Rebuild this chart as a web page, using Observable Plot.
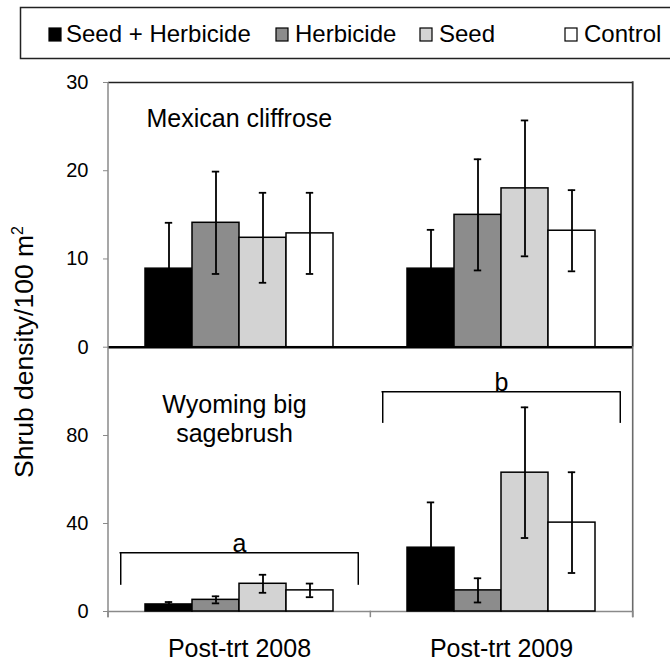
<!DOCTYPE html>
<html><head><meta charset="utf-8">
<script src="https://cdn.jsdelivr.net/npm/d3@7"></script>
<script src="https://cdn.jsdelivr.net/npm/@observablehq/plot@0.6"></script>
<style>
body{margin:0;background:#fff;}
#chart{position:relative;width:670px;height:662px;overflow:hidden;font-family:"Liberation Sans",Arial,sans-serif;background:#fff;}
#chart svg{position:absolute;left:0;}
</style></head><body><div id="chart"></div>
<script>
// ---- data ----
const groups = ["Post-trt 2008", "Post-trt 2009"];
const treatments = ["Seed + Herbicide", "Herbicide", "Seed", "Control"];
const treatmentColors = ["#000000", "#8c8c8c", "#d3d3d3", "#ffffff"];
const cliffrose2008 = [8.9, 14.1, 12.4, 12.9];
const cliffrose2008Err = [5.2, 5.8, 5.1, 4.6];
const cliffrose2009 = [8.9, 15.0, 18.0, 13.2];
const cliffrose2009Err = [4.4, 6.3, 7.7, 4.6];
const sage2008 = [3.2, 5.3, 12.6, 9.6];
const sage2008Err = [1.1, 1.6, 4.1, 3.1];
const sage2009 = [29.0, 9.6, 63.1, 40.4];
const sage2009Err = [20.6, 5.5, 29.7, 22.9];
const cliffroseTicks = [0, 10, 20, 30];
const sageTicks = [0, 40, 80];
const bracketLevels = [26.7, 99.9];
const bracketEnds = [11.9, 85.5];
const bracketLetters = ["a", "b"];
const panelTitles = ["Mexican cliffrose", "Wyoming big\nsagebrush"];
const yLabel = "Shrub density/100 m";
const yLabelSup = "2";

// ---- layout ----
const W = 670;
const frameLeft = 108, frameRight = 632.7;
const topFrameTop = 82, midY = 346.7, bottomZeroY = 610.7;
const barPaddingOuter = 0.756;
const capWidth = 8;
const bracketInset = 11.5;
const fontFamily = '"Liberation Sans", Arial, sans-serif';
const facetWidth = (frameRight - frameLeft) / groups.length;
const step = facetWidth / (treatments.length + 2 * barPaddingOuter);
const capInset = (step - capWidth) / 2;
const bracketDx = step / 2 + barPaddingOuter * step - bracketInset;

function panelRows(group, vals, errs) {
  return treatments.map((t, i) => ({group, trt: t, value: vals[i], err: errs[i]}));
}
const cliffroseData = [...panelRows(groups[0], cliffrose2008, cliffrose2008Err), ...panelRows(groups[1], cliffrose2009, cliffrose2009Err)];
const sageData = [...panelRows(groups[0], sage2008, sage2008Err), ...panelRows(groups[1], sage2009, sage2009Err)];
const brackets = groups.map((g, i) => ({group: g, level: bracketLevels[i], end: bracketEnds[i], letter: bracketLetters[i]}));

function barMarks(data) {
  return [
    Plot.barY(data, {fx: "group", x: "trt", y: "value", fill: "trt", stroke: "black", strokeWidth: 1.5}),
    Plot.ruleX(data, {fx: "group", x: "trt", y1: d => d.value - d.err, y2: d => d.value + d.err, stroke: "black", strokeWidth: 1.8}),
    Plot.tickY(data, {fx: "group", x: "trt", y: d => d.value + d.err, insetLeft: capInset, insetRight: capInset, stroke: "black", strokeWidth: 1.8}),
    Plot.tickY(data, {fx: "group", x: "trt", y: d => d.value - d.err, insetLeft: capInset, insetRight: capInset, stroke: "black", strokeWidth: 1.8})
  ];
}

const common = {
  width: W,
  marginLeft: frameLeft,
  marginRight: W - frameRight,
  x: {domain: treatments, paddingInner: 0, paddingOuter: barPaddingOuter, axis: null},
  color: {domain: treatments, range: treatmentColors},
  style: {background: "transparent", overflow: "visible", fontFamily, color: "black"}
};
const yAxisOpts = {tickSize: 5, tickPadding: 15, fontSize: 20, stroke: "#8a8a8a", fill: "black", label: null};

const topSvgTop = 62;
const topPlot = Plot.plot({
  ...common,
  height: midY - topSvgTop + 3.3,
  marginTop: topFrameTop - topSvgTop,
  marginBottom: 3.3,
  fx: {domain: groups, padding: 0, axis: null, label: null},
  y: {domain: [0, 30]},
  marks: [
    Plot.ruleY([30], {stroke: "#222", strokeWidth: 1.5}),
    ...barMarks(cliffroseData),
    Plot.ruleY([0], {stroke: "black", strokeWidth: 2.5}),
    Plot.axisY({...yAxisOpts, ticks: cliffroseTicks}),
    Plot.text([{group: groups[0], label: panelTitles[0]}], {fx: "group", text: "label", frameAnchor: "top-left", textAnchor: "start", lineAnchor: "top", dx: 38, dy: 27, fontSize: 25, fill: "black"})
  ]
});
topPlot.style.top = topSvgTop + "px";

const bottomSvgTop = midY - 20;
const bottomPlot = Plot.plot({
  ...common,
  height: bottomZeroY - bottomSvgTop + 50,
  marginTop: 20,
  marginBottom: 50,
  fx: {domain: groups, padding: 0, label: null},
  y: {domain: [0, 120]},
  marks: [
    Plot.ruleY([0], {stroke: "#8a8a8a", strokeWidth: 1.5}),
    ...barMarks(sageData),
    Plot.axisY({...yAxisOpts, ticks: sageTicks}),
    Plot.axisFx({anchor: "bottom", tickSize: 0, tickPadding: 28, fontSize: 25, label: null, fill: "black"}),
    Plot.ruleY(brackets, {fx: "group", y: "level", insetLeft: bracketInset, insetRight: bracketInset, stroke: "black", strokeWidth: 1.5}),
    Plot.ruleX(brackets, {fx: "group", x: () => treatments[0], y1: "end", y2: "level", dx: -bracketDx, stroke: "black", strokeWidth: 1.5}),
    Plot.ruleX(brackets, {fx: "group", x: () => treatments[treatments.length - 1], y1: "end", y2: "level", dx: bracketDx, stroke: "black", strokeWidth: 1.5}),
    Plot.text(brackets, {fx: "group", y: "level", text: "letter", lineAnchor: "bottom", dy: -1, fontSize: 25, fill: "black"}),
    Plot.text([{group: groups[0], label: panelTitles[1]}], {fx: "group", text: "label", frameAnchor: "top", lineAnchor: "top", lineHeight: 1.15, dx: -5, dy: 45, fontSize: 25, fill: "black"})
  ]
});
bottomPlot.style.top = bottomSvgTop + "px";

const chart = document.getElementById("chart");
chart.appendChild(topPlot);
chart.appendChild(bottomPlot);

// ---- decorations: frame lines, legend, y label ----
const ov = d3.select(chart).append("svg")
  .attr("width", W).attr("height", 662)
  .style("top", "0px").style("pointer-events", "none")
  .style("font-family", fontFamily);

ov.append("line").attr("x1", frameLeft).attr("x2", frameLeft).attr("y1", topFrameTop).attr("y2", bottomZeroY + 6.5)
  .attr("stroke", "#8a8a8a").attr("stroke-width", 1.5);
ov.append("line").attr("x1", frameRight).attr("x2", frameRight).attr("y1", topFrameTop - 0.7).attr("y2", midY)
  .attr("stroke", "#333").attr("stroke-width", 1.8);
ov.append("line").attr("x1", frameRight).attr("x2", frameRight).attr("y1", midY).attr("y2", bottomZeroY + 6.5)
  .attr("stroke", "#6a6a6a").attr("stroke-width", 1.6);
const xTickPos = [frameLeft, (frameLeft + frameRight) / 2, frameRight];
ov.selectAll("line.xt").data(xTickPos).join("line").attr("class", "xt")
  .attr("x1", d => d).attr("x2", d => d).attr("y1", bottomZeroY).attr("y2", bottomZeroY + 6.5)
  .attr("stroke", "#8a8a8a").attr("stroke-width", 1.5);

// y label
const yl = ov.append("text").attr("transform", "translate(33,352) rotate(-90)")
  .attr("text-anchor", "middle").attr("font-size", 26.5).attr("fill", "black");
yl.append("tspan").text(yLabel);
yl.append("tspan").attr("dy", -10).attr("font-size", 16).text(yLabelSup);

// legend
const legendSwatchX = [49, 276, 420, 565];
const legendTextX = [66, 295, 439, 584];
ov.append("rect").attr("x", 20.5).attr("y", 7.5).attr("width", 700).attr("height", 51)
  .attr("fill", "none").attr("stroke", "#222").attr("stroke-width", 1.5);
treatments.forEach((t, i) => {
  ov.append("rect").attr("x", legendSwatchX[i]).attr("y", 28).attr("width", 12).attr("height", 13)
    .attr("fill", treatmentColors[i]).attr("stroke", "black").attr("stroke-width", 1.2);
  ov.append("text").attr("x", legendTextX[i]).attr("y", 41.5).attr("font-size", 24).attr("fill", "black").text(t);
});
</script>
</body></html>
